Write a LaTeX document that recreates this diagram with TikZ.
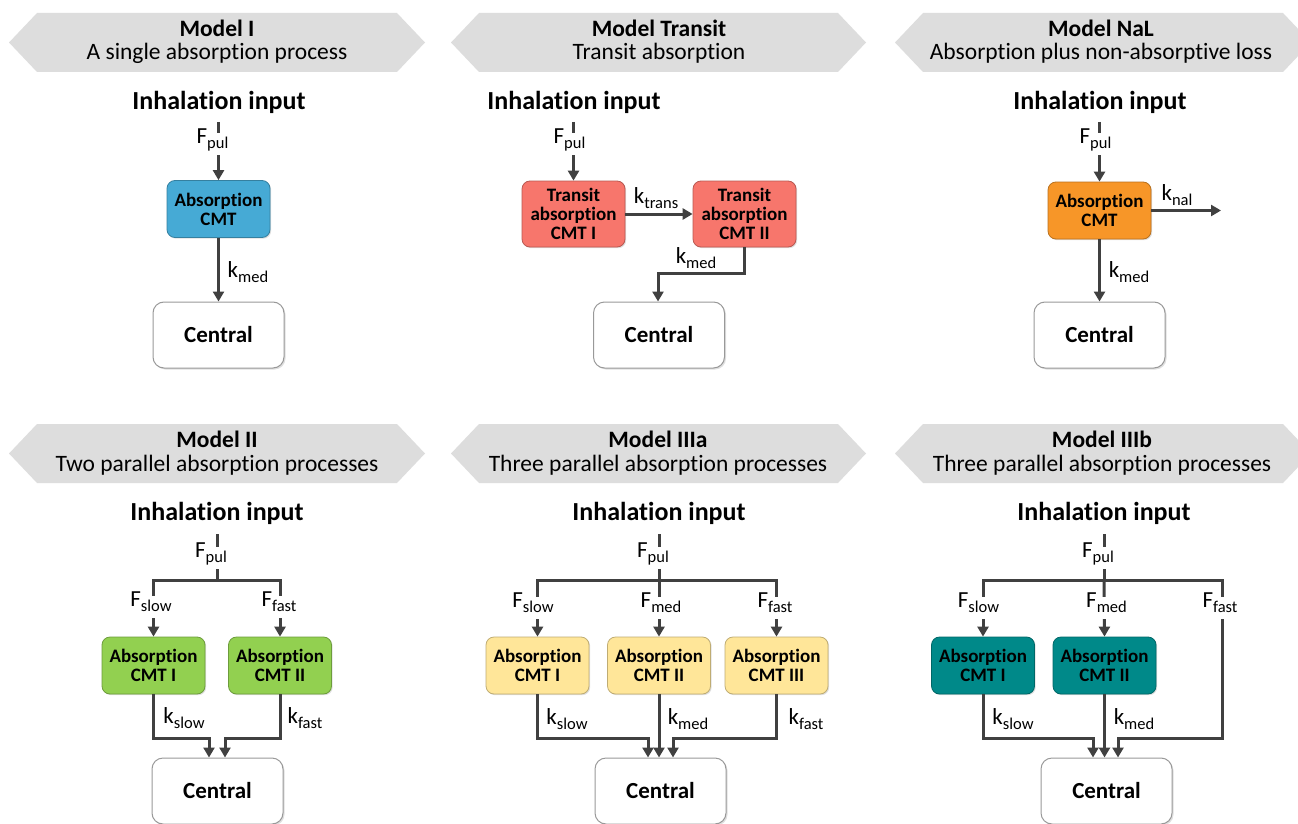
\documentclass[tikz,border=0pt]{standalone}
\usepackage{fontspec}
\setmainfont{Carlito}[Ligatures={NoCommon}]
\usetikzlibrary{arrows.meta,shadows}
\definecolor{bannergray}{RGB}{221,221,221}
\definecolor{linegray}{RGB}{64,64,64}
\definecolor{cblue}{RGB}{70,170,213}
\definecolor{csalmon}{RGB}{247,118,108}
\definecolor{corange}{RGB}{247,150,40}
\definecolor{cgreen}{RGB}{146,208,80}
\definecolor{cyellow}{RGB}{255,230,153}
\definecolor{cteal}{RGB}{0,137,137}
\newcommand\sbs[1]{\raisebox{-5.5pt}{\fontsize{16.5}{16.5}\selectfont #1}}
\tikzset{
  banner/.style={fill=bannergray, draw=none},
  ttlb/.style={anchor=base, inner sep=0, font=\bfseries\fontsize{23.5}{24}\selectfont},
  ttln/.style={anchor=base, inner sep=0, font=\fontsize{23.5}{24}\selectfont},
  inh/.style={anchor=base, inner sep=0, font=\bfseries\fontsize{26}{28}\selectfont},
  cmt/.style={draw=#1!75!black, fill=#1, line width=0.8pt, rounded corners=8pt,
    align=center, font=\bfseries\fontsize{19}{19}\selectfont, inner sep=0,
    minimum width=103pt, minimum height=57pt,
    drop shadow={opacity=0.25, shadow xshift=1.2pt, shadow yshift=-1.2pt}},
  central/.style={draw=black!40, fill=white, line width=1pt, rounded corners=11pt,
    font=\bfseries\fontsize{23}{23}\selectfont, inner sep=0,
    minimum width=131pt, minimum height=66pt,
    drop shadow={opacity=0.25, shadow xshift=1.5pt, shadow yshift=-1.5pt}},
  ln/.style={draw=linegray, line width=3pt},
  arr/.style={draw=linegray, line width=3pt, -{Triangle[length=10pt,width=11pt]}},
  flbl/.style={fill=white, inner xsep=1pt, inner ysep=0pt, text height=10pt, text depth=12pt,
    anchor=base, font=\fontsize{23}{23}\selectfont},
  klbl/.style={inner sep=0, anchor=base, font=\fontsize{23}{23}\selectfont},
}
\newcommand\bannerpath[4]{% xl xr top bottom
  \fill[banner] (#1,{(#3+#4)/2}) -- (#1+28,#3) -- (#2-28,#3) -- (#2,{(#3+#4)/2}) -- (#2-28,#4) -- (#1+28,#4) -- cycle;}
\begin{document}
\begin{tikzpicture}[x=1pt,y=-1pt]
\useasboundingbox (0,0) rectangle (1298,824);
\clip (0,0) rectangle (1298,824);
\fill[white] (0,0) rectangle (1298,824);

% ---------- banners ----------
\bannerpath{9}{425}{13}{72}
\bannerpath{451}{866}{13}{72}
\bannerpath{895}{1311}{13}{72}
\bannerpath{9}{425}{424}{483}
\bannerpath{451}{866}{424}{483}
\bannerpath{895}{1311}{424}{483}

\node[ttlb] (t1a) at (217,36.7) {Model I};
\node[ttln] (t1b) at (217,60) {A single absorption process};
\node[ttlb] (t2a) at (659,36.7) {Model Transit};
\node[ttln] (t2b) at (659,60) {Transit absorption};
\node[ttlb] (t3a) at (1101,36.7) {Model NaL};
\node[ttln] (t3b) at (1101,60) {Absorption plus non-absorptive loss};
\node[ttlb] (t4a) at (217,447.5) {Model II};
\node[ttln] (t4b) at (217,471) {Two parallel absorption processes};
\node[ttlb] (t5a) at (658,447.5) {Model IIIa};
\node[ttln] (t5b) at (658,471) {Three parallel absorption processes};
\node[ttlb] (t6a) at (1102,447.5) {Model IIIb};
\node[ttln] (t6b) at (1102,471) {Three parallel absorption processes};

\node[inh] (h1) at (219,109.5) {Inhalation input};
\node[inh] (h2) at (574,109.5) {Inhalation input};
\node[inh] (h3) at (1100,109.5) {Inhalation input};
\node[inh] (h4) at (217,520.5) {Inhalation input};
\node[inh] (h5) at (659,520.5) {Inhalation input};
\node[inh] (h6) at (1104,520.5) {Inhalation input};

% ---------- Model I ----------
\node[cmt=cblue] (a1) at (218.5,209) {Absorption\\CMT};
\node[central] (c1) at (218.5,335) {Central};
\coordinate (s1) at (218.5,122);
\draw[arr] (s1) -- (a1.north);
\draw[arr] (a1.south) -- (c1.north);
\node[flbl] (f1) at (212.5,143) {F\sbs{pul}};
\node[klbl] (k1) at (248,277) {k\sbs{med}};

% ---------- Model Transit ----------
\node[cmt=csalmon, minimum height=66pt] (r1) at (573.5,214) {Transit\\absorption\\CMT I};
\node[cmt=csalmon, minimum height=66pt] (r2) at (744.5,214) {Transit\\absorption\\CMT II};
\node[central] (c2) at (659,335) {Central};
\coordinate (s2) at (573.5,122);
\coordinate (b2) at (658,273);
\draw[arr] (s2) -- (r1.north);
\draw[arr] (r1.east) -- (r2.west);
\draw[arr] (r2.south) |- (b2) -- (b2 |- c2.north);
\node[flbl] (f2) at (569.5,143) {F\sbs{pul}};
\node[klbl] (k2a) at (656,203) {k\sbs{trans}};
\node[klbl] (k2b) at (696,263) {k\sbs{med}};

% ---------- Model NaL ----------
\node[cmt=corange] (n1) at (1099.5,210.5) {Absorption\\CMT};
\node[central] (c3) at (1099.5,335) {Central};
\coordinate (s3) at (1099.5,122);
\coordinate (nal) at (1221,210.5);
\draw[arr] (s3) -- (n1.north);
\draw[arr] (n1.east) -- (nal);
\draw[arr] (n1.south) -- (c3.north);
\node[flbl] (f3) at (1095.5,143) {F\sbs{pul}};
\node[klbl] (k3a) at (1177,200) {k\sbs{nal}};
\node[klbl] (k3b) at (1129,277) {k\sbs{med}};

% ---------- Model II ----------
\node[cmt=cgreen] (g1) at (153.5,665.5) {Absorption\\CMT I};
\node[cmt=cgreen] (g2) at (280,665.5) {Absorption\\CMT II};
\node[central] (c4) at (217.5,791) {Central};
\coordinate (s4) at (217,534);
\coordinate (j4) at (217,580);
\coordinate (q41) at (209,738);
\coordinate (q42) at (225,738);
\draw[ln] (s4) -- (j4);
\draw[arr] (j4) -| (g1.north);
\draw[arr] (j4) -| (g2.north);
\draw[arr] (g1.south) |- (q41) -- (q41 |- c4.north);
\draw[arr] (g2.south) |- (q42) -- (q42 |- c4.north);
\node[flbl] (f4) at (211,557) {F\sbs{pul}};
\node[flbl] (f4s) at (151,606) {F\sbs{slow}};
\node[flbl] (f4f) at (279,606) {F\sbs{fast}};
\node[klbl] (k4s) at (184,723) {k\sbs{slow}};
\node[klbl] (k4f) at (305,723) {k\sbs{fast}};

% ---------- Model IIIa ----------
\node[cmt=cyellow] (y1) at (537.5,665.5) {Absorption\\CMT I};
\node[cmt=cyellow] (y2) at (659,665.5) {Absorption\\CMT II};
\node[cmt=cyellow] (y3) at (776.5,665.5) {Absorption\\CMT III};
\node[central] (c5) at (660.5,791) {Central};
\coordinate (s5) at (659,534);
\coordinate (j5) at (659,580);
\coordinate (q51) at (648,738);
\coordinate (q53) at (673,738);
\draw[ln] (s5) -- (j5);
\draw[arr] (j5) -| (y1.north);
\draw[arr] (j5) -- (y2.north);
\draw[arr] (j5) -| (y3.north);
\draw[arr] (y1.south) |- (q51) -- (q51 |- c5.north);
\draw[arr] (y2.south) -- (y2.south |- c5.north);
\draw[arr] (y3.south) |- (q53) -- (q53 |- c5.north);
\node[flbl] (f5) at (653,557) {F\sbs{pul}};
\node[flbl] (f5s) at (533,607) {F\sbs{slow}};
\node[flbl] (f5m) at (661,607) {F\sbs{med}};
\node[flbl] (f5f) at (775,607) {F\sbs{fast}};
\node[klbl] (k5s) at (567,724) {k\sbs{slow}};
\node[klbl] (k5m) at (688,724) {k\sbs{med}};
\node[klbl] (k5f) at (806,724) {k\sbs{fast}};

% ---------- Model IIIb ----------
\node[cmt=cteal] (e1) at (983,665.5) {Absorption\\CMT I};
\node[cmt=cteal] (e2) at (1104.5,665.5) {Absorption\\CMT II};
\node[central] (c6) at (1106.5,791) {Central};
\coordinate (s6) at (1104,534);
\coordinate (j6) at (1104,580);
\coordinate (m6) at (1222,738);
\coordinate (q61) at (1093,738);
\coordinate (q63) at (1118,738);
\draw[ln] (s6) -- (j6);
\draw[arr] (j6) -| (e1.north);
\draw[arr] (j6) -- (e2.north);
\draw[arr] (j6) -| (m6) -- (q63) -- (q63 |- c6.north);
\draw[arr] (e1.south) |- (q61) -- (q61 |- c6.north);
\draw[arr] (e2.south) -- (e2.south |- c6.north);
\node[flbl] (f6) at (1098,557) {F\sbs{pul}};
\node[flbl] (f6s) at (978.5,607) {F\sbs{slow}};
\node[flbl] (f6m) at (1106.5,607) {F\sbs{med}};
\node[flbl] (f6f) at (1220,607) {F\sbs{fast}};
\node[klbl] (k6s) at (1013,724) {k\sbs{slow}};
\node[klbl] (k6m) at (1134,724) {k\sbs{med}};
\end{tikzpicture}
\end{document}
